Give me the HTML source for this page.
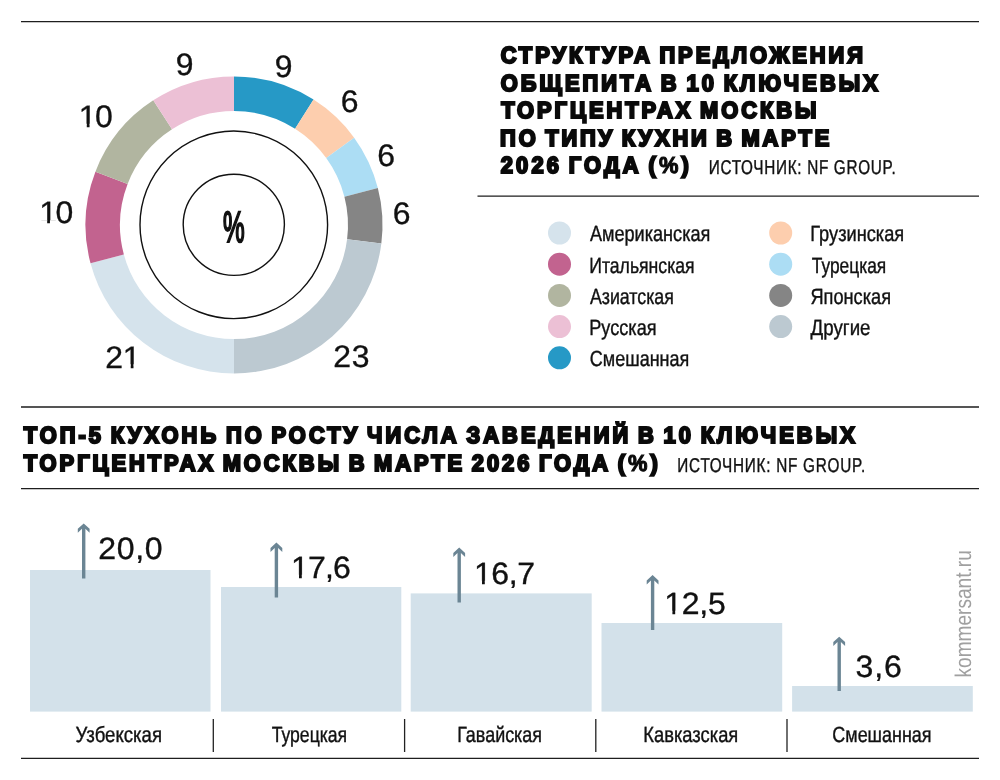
<!DOCTYPE html>
<html lang="ru"><head><meta charset="utf-8"><title>Инфографика</title>
<style>
html,body{margin:0;padding:0;background:#fff}
svg{display:block}
text{font-family:"Liberation Sans",sans-serif;fill:#111;text-rendering:geometricPrecision}
.hd{font-weight:bold;fill:#0a0a0a;stroke:#0a0a0a}
.pct{stroke:#111}
.num{stroke:#111;stroke-width:0.35px}
.cond,.src{stroke:#111;stroke-width:0.4px}
.kom{fill:#a0a0a0}
</style></head><body>
<svg width="1000" height="780" viewBox="0 0 1000 780">
<rect width="1000" height="780" fill="#fff"/>
<path d="M21 21.7H979M477.5 196.2H979M21 407H979M21 488.7H979M21 758.4H979" stroke="#1e1e1e" stroke-width="1.3" fill="none"/>
<path d="M234.00 76.50A148.5 148.5 0 0 1 313.57 99.62L295.08 128.75A114 114 0 0 0 234.00 111.00Z" fill="#2699c6"/>
<path d="M313.57 99.62A148.5 148.5 0 0 1 354.14 137.71L326.23 157.99A114 114 0 0 0 295.08 128.75Z" fill="#fdceae"/>
<path d="M354.14 137.71A148.5 148.5 0 0 1 377.83 188.07L344.42 196.65A114 114 0 0 0 326.23 157.99Z" fill="#acddf4"/>
<path d="M377.83 188.07A148.5 148.5 0 0 1 381.33 243.61L347.10 239.29A114 114 0 0 0 344.42 196.65Z" fill="#858585"/>
<path d="M381.33 243.61A148.5 148.5 0 0 1 234.00 373.50L234.00 339.00A114 114 0 0 0 347.10 239.29Z" fill="#bcc9d1"/>
<path d="M234.00 373.50A148.5 148.5 0 0 1 90.52 263.28L123.85 254.39A114 114 0 0 0 234.00 339.00Z" fill="#d5e3ec"/>
<path d="M90.52 263.28A148.5 148.5 0 0 1 95.42 171.64L127.61 184.03A114 114 0 0 0 123.85 254.39Z" fill="#c2638f"/>
<path d="M95.42 171.64A148.5 148.5 0 0 1 153.25 100.37L172.01 129.33A114 114 0 0 0 127.61 184.03Z" fill="#b1b5a0"/>
<path d="M153.25 100.37A148.5 148.5 0 0 1 234.00 76.50L234.00 111.00A114 114 0 0 0 172.01 129.33Z" fill="#ecc0d5"/>
<circle cx="233.8" cy="224.8" r="93.8" fill="none" stroke="#111" stroke-width="1.4"/>
<circle cx="233.8" cy="224.8" r="50.6" fill="none" stroke="#111" stroke-width="1.4"/>
<text transform="translate(222.96 241.8) scale(0.5562 1)" font-size="43.8" class="pct" stroke-width="2.2">%</text>
<text transform="translate(274.84 77) scale(1.0300 1)" font-size="31" class="num">9</text>
<text transform="translate(340.68 111.8) scale(1.0300 1)" font-size="31" class="num">6</text>
<text transform="translate(377.18 165.8) scale(1.0300 1)" font-size="31" class="num">6</text>
<text transform="translate(392.78 224) scale(1.0300 1)" font-size="31" class="num">6</text>
<text transform="translate(333.13 367.4) scale(1.0300 1)" font-size="31" class="num" letter-spacing="0.800">23</text>
<text transform="translate(105.34 367.5) scale(1.0300 1)" font-size="31" class="num" letter-spacing="-0.400">21</text><path d="M123.64 364.25H130.72V370.00H123.64ZM133.49 364.25H140.57V370.00H133.49Z" fill="#fff"/>
<text transform="translate(39.14 223.4) scale(1.0300 1)" font-size="31" class="num" letter-spacing="-1.400">10</text><path d="M40.10 220.15H47.17V225.90H40.10ZM49.95 220.15H57.02V225.90H49.95Z" fill="#fff"/>
<text transform="translate(78.74 127) scale(1.0300 1)" font-size="31" class="num" letter-spacing="-1.400">10</text><path d="M79.70 123.75H86.77V129.50H79.70ZM89.55 123.75H96.62V129.50H89.55Z" fill="#fff"/>
<text transform="translate(175.84 74.6) scale(1.0300 1)" font-size="31" class="num">9</text>
<text transform="translate(500.67 63.199999999999996) scale(0.9500 1)" font-size="23" class="hd" stroke-width="2.2" letter-spacing="3.094" word-spacing="-2.5">СТРУКТУРА ПРЕДЛОЖЕНИЯ</text>
<text transform="translate(500.67 90.7) scale(0.9500 1)" font-size="23" class="hd" stroke-width="2.2" letter-spacing="3.244" word-spacing="-2.5">ОБЩЕПИТА В 10 КЛЮЧЕВЫХ</text>
<text transform="translate(501.33 118.2) scale(0.9500 1)" font-size="23" class="hd" stroke-width="2.2" letter-spacing="3.122" word-spacing="-2.5">ТОРГЦЕНТРАХ МОСКВЫ</text>
<text transform="translate(500.12 145.70000000000002) scale(0.9500 1)" font-size="23" class="hd" stroke-width="2.2" letter-spacing="3.043" word-spacing="-2.5">ПО ТИПУ КУХНИ В МАРТЕ</text>
<text transform="translate(500.78 173.20000000000002) scale(0.9500 1)" font-size="23" class="hd" stroke-width="2.2" letter-spacing="3.320" word-spacing="-2.5">2026 ГОДА (<tspan stroke-width="1.1">%</tspan>)</text>
<text transform="translate(708.77 174) scale(0.7700 1)" font-size="19.9" class="src" letter-spacing="0.891">ИСТОЧНИК: NF GROUP.</text>
<circle cx="559.5" cy="233.0" r="11.5" fill="#d5e3ec"/>
<text transform="translate(589.90 241.3) scale(0.8235 1)" font-size="22.0" class="cond">Американская</text>
<circle cx="559.5" cy="264.2" r="11.5" fill="#c2638f"/>
<text transform="translate(589.29 272.5) scale(0.8007 1)" font-size="22.0" class="cond">Итальянская</text>
<circle cx="559.5" cy="295.4" r="11.5" fill="#b1b5a0"/>
<text transform="translate(589.90 303.7) scale(0.8085 1)" font-size="22.0" class="cond">Азиатская</text>
<circle cx="559.5" cy="326.6" r="11.5" fill="#ecc0d5"/>
<text transform="translate(589.25 334.9) scale(0.8237 1)" font-size="22.0" class="cond">Русская</text>
<circle cx="559.5" cy="357.8" r="11.5" fill="#2699c6"/>
<text transform="translate(589.80 366.1) scale(0.8183 1)" font-size="22.0" class="cond">Смешанная</text>
<circle cx="780.7" cy="233.0" r="11.5" fill="#fdceae"/>
<text transform="translate(810.24 241.3) scale(0.8283 1)" font-size="22.0" class="cond">Грузинская</text>
<circle cx="780.7" cy="264.2" r="11.5" fill="#acddf4"/>
<text transform="translate(811.85 272.5) scale(0.7890 1)" font-size="22.0" class="cond">Турецкая</text>
<circle cx="780.7" cy="295.4" r="11.5" fill="#858585"/>
<text transform="translate(810.48 303.7) scale(0.8260 1)" font-size="22.0" class="cond">Японская</text>
<circle cx="780.7" cy="326.6" r="11.5" fill="#bcc9d1"/>
<text transform="translate(810.61 334.9) scale(0.8500 1)" font-size="22.0" class="cond">Другие</text>
<text transform="translate(23.83 443.2) scale(0.9500 1)" font-size="23" class="hd" stroke-width="2.2" letter-spacing="3.222" word-spacing="-2.5">ТОП-5 КУХОНЬ ПО РОСТУ ЧИСЛА ЗАВЕДЕНИЙ В 10 КЛЮЧЕВЫХ</text>
<text transform="translate(23.83 470.7) scale(0.9500 1)" font-size="23" class="hd" stroke-width="2.2" letter-spacing="3.132" word-spacing="-2.5">ТОРГЦЕНТРАХ МОСКВЫ В МАРТЕ 2026 ГОДА (<tspan stroke-width="1.1">%</tspan>)</text>
<text transform="translate(677.37 471.5) scale(0.7700 1)" font-size="19.9" class="src" letter-spacing="0.956">ИСТОЧНИК: NF GROUP.</text>
<rect x="30" y="570" width="180.5" height="141.6" fill="#d3e1ea"/>
<rect x="221" y="587" width="180.3" height="124.6" fill="#d3e1ea"/>
<rect x="410.7" y="593.4" width="181.0" height="118.2" fill="#d3e1ea"/>
<rect x="601.5" y="623" width="180.7" height="88.6" fill="#d3e1ea"/>
<rect x="792.1" y="686" width="180.7" height="25.6" fill="#d3e1ea"/>
<path transform="translate(83.7 523.4)" d="M0 0L5.9 5.4V9.4L1.7 5.4V55.0H-1.7V5.4L-5.9 9.4V5.4Z" fill="#6b8594"/>
<text transform="translate(98.24 559.2) scale(1.0400 1)" font-size="30.8" class="num" letter-spacing="0.635">20,0</text>
<text transform="translate(75.54 742) scale(0.8453 1)" font-size="22.0" class="cond">Узбекская</text>
<path transform="translate(276.4 542.6)" d="M0 0L5.9 5.4V9.4L1.7 5.4V55.0H-1.7V5.4L-5.9 9.4V5.4Z" fill="#6b8594"/>
<text transform="translate(290.96 578) scale(1.0400 1)" font-size="30.8" class="num" letter-spacing="-0.762">17,6</text><path d="M291.92 574.77H299.01V580.50H291.92ZM301.80 574.77H308.89V580.50H301.80Z" fill="#fff"/>
<text transform="translate(271.65 742) scale(0.8009 1)" font-size="22.0" class="cond">Турецкая</text>
<path transform="translate(459.2 547.6)" d="M0 0L5.9 5.4V9.4L1.7 5.4V54.8H-1.7V5.4L-5.9 9.4V5.4Z" fill="#6b8594"/>
<text transform="translate(473.96 584) scale(1.0400 1)" font-size="30.8" class="num" letter-spacing="-0.403">16,7</text><path d="M474.92 580.77H482.01V586.50H474.92ZM484.80 580.77H491.89V586.50H484.80Z" fill="#fff"/>
<text transform="translate(457.17 742) scale(0.8149 1)" font-size="22.0" class="cond">Гавайская</text>
<path transform="translate(652.6 575)" d="M0 0L5.9 5.4V9.4L1.7 5.4V55.0H-1.7V5.4L-5.9 9.4V5.4Z" fill="#6b8594"/>
<text transform="translate(664.36 614) scale(1.0400 1)" font-size="30.8" class="num" letter-spacing="-0.313">12,5</text><path d="M665.32 610.77H672.41V616.50H665.32ZM675.20 610.77H682.29V616.50H675.20Z" fill="#fff"/>
<text transform="translate(643.33 742) scale(0.8332 1)" font-size="22.0" class="cond">Кавказская</text>
<path transform="translate(839.2 636.7)" d="M0 0L5.9 5.4V9.4L1.7 5.4V54.3H-1.7V5.4L-5.9 9.4V5.4Z" fill="#6b8594"/>
<text transform="translate(855.52 676.5) scale(1.0400 1)" font-size="30.8" class="num" letter-spacing="0.836">3,6</text>
<text transform="translate(832.30 742) scale(0.8167 1)" font-size="22.0" class="cond">Смешанная</text>
<path d="M213.3 719V752" stroke="#222" stroke-width="1.3"/>
<path d="M404.6 719V752" stroke="#222" stroke-width="1.3"/>
<path d="M595.8 719V752" stroke="#222" stroke-width="1.3"/>
<path d="M787 719V752" stroke="#222" stroke-width="1.3"/>
<text transform="translate(971.0 677.54) rotate(-90) scale(0.8420 1)" font-size="22.7" class="kom">kommersant.ru</text>
</svg>
</body></html>
